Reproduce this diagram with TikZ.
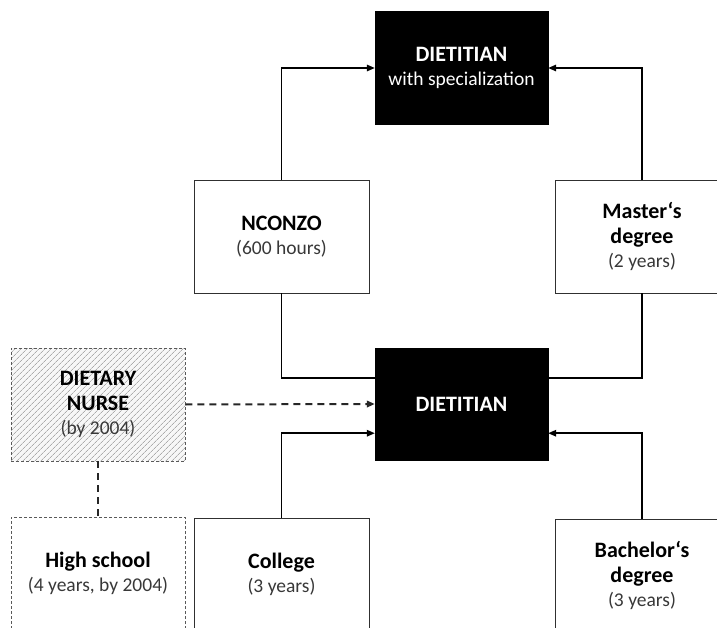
\documentclass[tikz,border=0pt]{standalone}
\usepackage{fontspec}
\setmainfont{Carlito}
\usetikzlibrary{arrows.meta,patterns.meta,calc}
\definecolor{txtgray}{HTML}{383838}
\definecolor{edgegray}{HTML}{303030}
\begin{document}
\begin{tikzpicture}[x=1pt,y=-1pt,
  every node/.style={inner sep=0pt, align=center, font=\fontsize{19.5}{24.5}\selectfont},
  whitebox/.style={draw=edgegray, line width=0.9pt, fill=white, text=txtgray, minimum width=174pt, minimum height=113pt},
  blackbox/.style={draw=black, fill=black, text=white, minimum width=173pt, minimum height=113pt},
  hatchbox/.style={draw=edgegray!80, dash pattern=on 3pt off 2pt, line width=0.8pt, preaction={fill=gray!6}, pattern={Lines[angle=45,distance=4pt,line width=0.7pt]}, pattern color=gray!65, text=txtgray, minimum width=174pt, minimum height=113pt},
  dashbox/.style={draw=edgegray!80, dash pattern=on 3pt off 2pt, line width=0.8pt, fill=white, text=txtgray, minimum width=174pt, minimum height=113pt},
  conn/.style={draw=black, line width=1.5pt, -{Triangle[length=8pt,width=6.5pt]}},
  plainline/.style={draw=black, line width=1.5pt},
  dashconn/.style={draw=black!85, line width=2pt, dash pattern=on 7pt off 5pt},
]
\newcommand{\hd}[1]{{\fontsize{22}{24.5}\selectfont\bfseries\color{black}#1}}
\newcommand{\hdw}[1]{{\fontsize{22}{24.5}\selectfont\bfseries #1}}
\useasboundingbox (0,0) rectangle (717,628);
\clip (0,0) rectangle (717,628);

\node[blackbox] (top) at (461.5,68) {\hdw{DIETITIAN}\\with specialization};
\node[whitebox, minimum width=175pt] (nconzo) at (281.5,236.5) {\hd{NCONZO}\\(600 hours)};
\node[whitebox] (master) at (642,236.5) {\hd{Master‘s}\\\hd{degree}\\(2 years)};
\node[blackbox, minimum height=112pt] (mid) at (461.5,404) {\hdw{DIETITIAN}};
\node[hatchbox] (nurse) at (98,404.5) {\hd{DIETARY}\\\hd{NURSE}\\(by 2004)};
\node[dashbox] (hs) at (98,573.5) {\hd{High school}\\(4 years, by 2004)};
\node[whitebox, minimum width=175pt] (college) at (281.5,574.5) {\hd{College}\\(3 years)};
\node[whitebox] (bachelor) at (642,575.5) {\hd{Bachelor‘s}\\\hd{degree}\\(3 years)};

\coordinate (mw1) at ($(mid.north west)!0.27!(mid.south west)$);
\coordinate (mw2) at ($(mid.north west)!0.76!(mid.south west)$);
\coordinate (me1) at ($(mid.north east)!0.27!(mid.south east)$);
\coordinate (me2) at ($(mid.north east)!0.76!(mid.south east)$);

\draw[conn] (nconzo.north) |- (top.west);
\draw[conn] (master.north) |- (top.east);
\draw[plainline] (nconzo.south) |- (mw1);
\draw[plainline] (master.south) |- (me1);
\draw[conn] (college.north) |- (mw2);
\draw[conn] (bachelor.north) |- (me2);
\draw[dashconn, -{Triangle[length=8pt,width=6.5pt]}] (nurse.east) -- (mid.west);
\draw[dashconn] (nurse.south) -- (hs.north);
\end{tikzpicture}
\end{document}
